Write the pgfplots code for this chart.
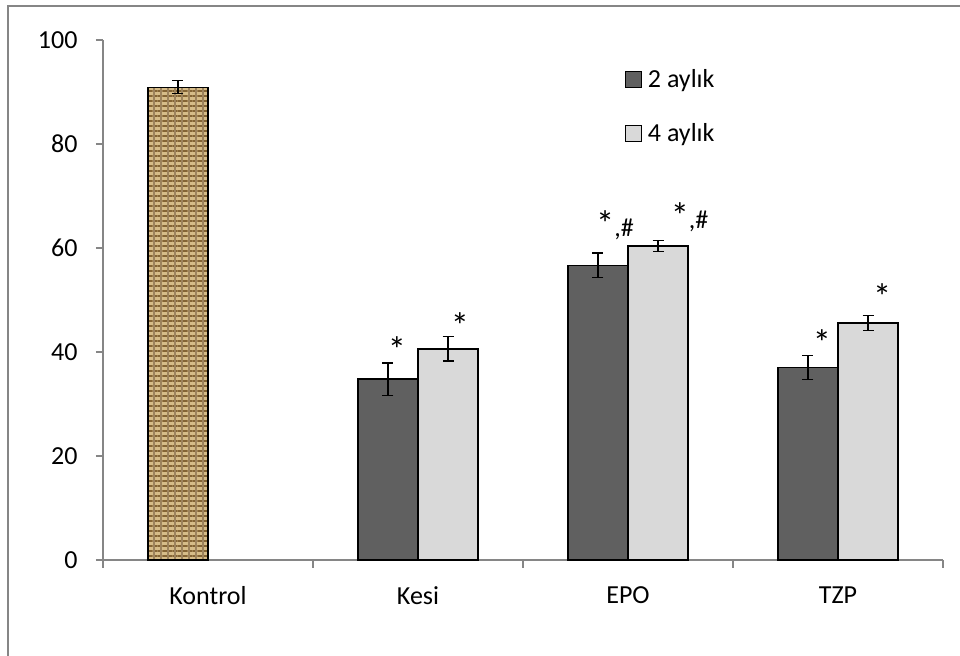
\documentclass[border=0pt]{standalone}
\usepackage{pgfplots}
\pgfplotsset{compat=1.18}
\usepackage{fontspec}
\setmainfont{Carlito}
\usetikzlibrary{patterns,patterns.meta}
\definecolor{axgray}{RGB}{134,134,134}
\definecolor{darkbar}{RGB}{96,96,96}
\definecolor{lightbar}{RGB}{217,217,217}
\definecolor{burlap}{RGB}{214,188,136}
\definecolor{burlapdark}{RGB}{132,100,52}
\newcommand{\bigast}{\scalebox{1.4}{*}}
\begin{document}
\begin{tikzpicture}[font=\fontsize{26bp}{31bp}\selectfont]
\useasboundingbox (0,0) rectangle (960bp,656bp);
\draw[axgray, line width=1.6bp] (8bp,0bp) -- (8bp,650bp) -- (960bp,650bp);
\begin{axis}[
  at={(103bp,96bp)}, anchor=south west,
  scale only axis, width=840bp, height=520bp,
  xmin=-0.5, xmax=3.5, ymin=0, ymax=100,
  axis x line=bottom, axis y line=left,
  axis line style={-, draw=axgray, line width=1.2bp},
  xtick={0,1,2,3}, xticklabels={Kontrol,Kesi,EPO,TZP},
  major x tick style={draw=none},
  minor xtick={-0.5,0.5,1.5,2.5,3.5},
  ytick={0,20,40,60,80,100},
  tick align=outside,
  major tick length=7bp, minor tick length=8bp,
  every tick/.style={draw=axgray, line width=1.2bp},
  minor tick style={draw=axgray, line width=1.2bp},
  major y tick style={draw=axgray, line width=1.2bp},
  tick label style={font=\fontsize{26bp}{31bp}\selectfont},
  /pgf/number format/assume math mode=true,
  xticklabel style={yshift=-16bp},
  yticklabel style={xshift=-15bp},
  clip=false,
  legend style={draw=none, fill=none, at={(0.621,0.945)}, anchor=north west,
    row sep=32bp, inner sep=0pt,
    nodes={inner sep=1bp},
    /tikz/every odd column/.append style={column sep=5bp},
    font=\fontsize{26bp}{31bp}\selectfont},
  legend image code/.code={\draw[#1, draw=black, line width=1.1bp] (0bp,-8bp) rectangle (16bp,8bp);},
  legend cell align=left,
]
% Kontrol
\addplot[forget plot, ybar, bar shift=0pt, bar width=0.2857, draw=black, line width=1.3bp,
  fill=burlap,
  postaction={pattern={Lines[angle=0,distance=5bp,line width=1.3bp]}, pattern color=burlapdark},
  postaction={pattern={Lines[angle=90,distance=7bp,line width=1.1bp]}, pattern color=burlapdark!80},
  error bars/.cd, y dir=both, y explicit,
  error bar style={black, line width=1.2bp},
  error mark options={rotate=90, mark size=5.5bp, black, line width=1.2bp}]
  coordinates {(-0.1429,90.9) +- (0,1.25)};
% 2 aylik
\addplot[ybar, bar shift=0pt, bar width=0.2857, draw=black, line width=1.3bp, fill=darkbar,
  error bars/.cd, y dir=both, y explicit,
  error bar style={black, line width=1.2bp},
  error mark options={rotate=90, mark size=5.5bp, black, line width=1.2bp}]
  coordinates {(0.8571,34.8) +- (0,3.1) (1.8571,56.7) +- (0,2.35) (2.8571,37.0) +- (0,2.25)};
\addlegendentry{2 aylık}
% 4 aylik
\addplot[ybar, bar shift=0pt, bar width=0.2857, draw=black, line width=1.3bp, fill=lightbar,
  error bars/.cd, y dir=both, y explicit,
  error bar style={black, line width=1.2bp},
  error mark options={rotate=90, mark size=5.5bp, black, line width=1.2bp}]
  coordinates {(1.1429,40.6) +- (0,2.35) (2.1429,60.4) +- (0,1.05) (3.1429,45.6) +- (0,1.4)};
\addlegendentry{4 aylık}
\node[anchor=base] at (axis cs:0.90,37.9) {\bigast};
\node[anchor=base] at (axis cs:1.20,42.5) {\bigast};
\node[anchor=base] at (axis cs:1.938,62.3) {\bigast,\#};
\node[anchor=base] at (axis cs:2.293,63.8) {\bigast,\#};
\node[anchor=base] at (axis cs:2.924,39.4) {\bigast};
\node[anchor=base] at (axis cs:3.21,48.1) {\bigast};
\end{axis}
\end{tikzpicture}
\end{document}
